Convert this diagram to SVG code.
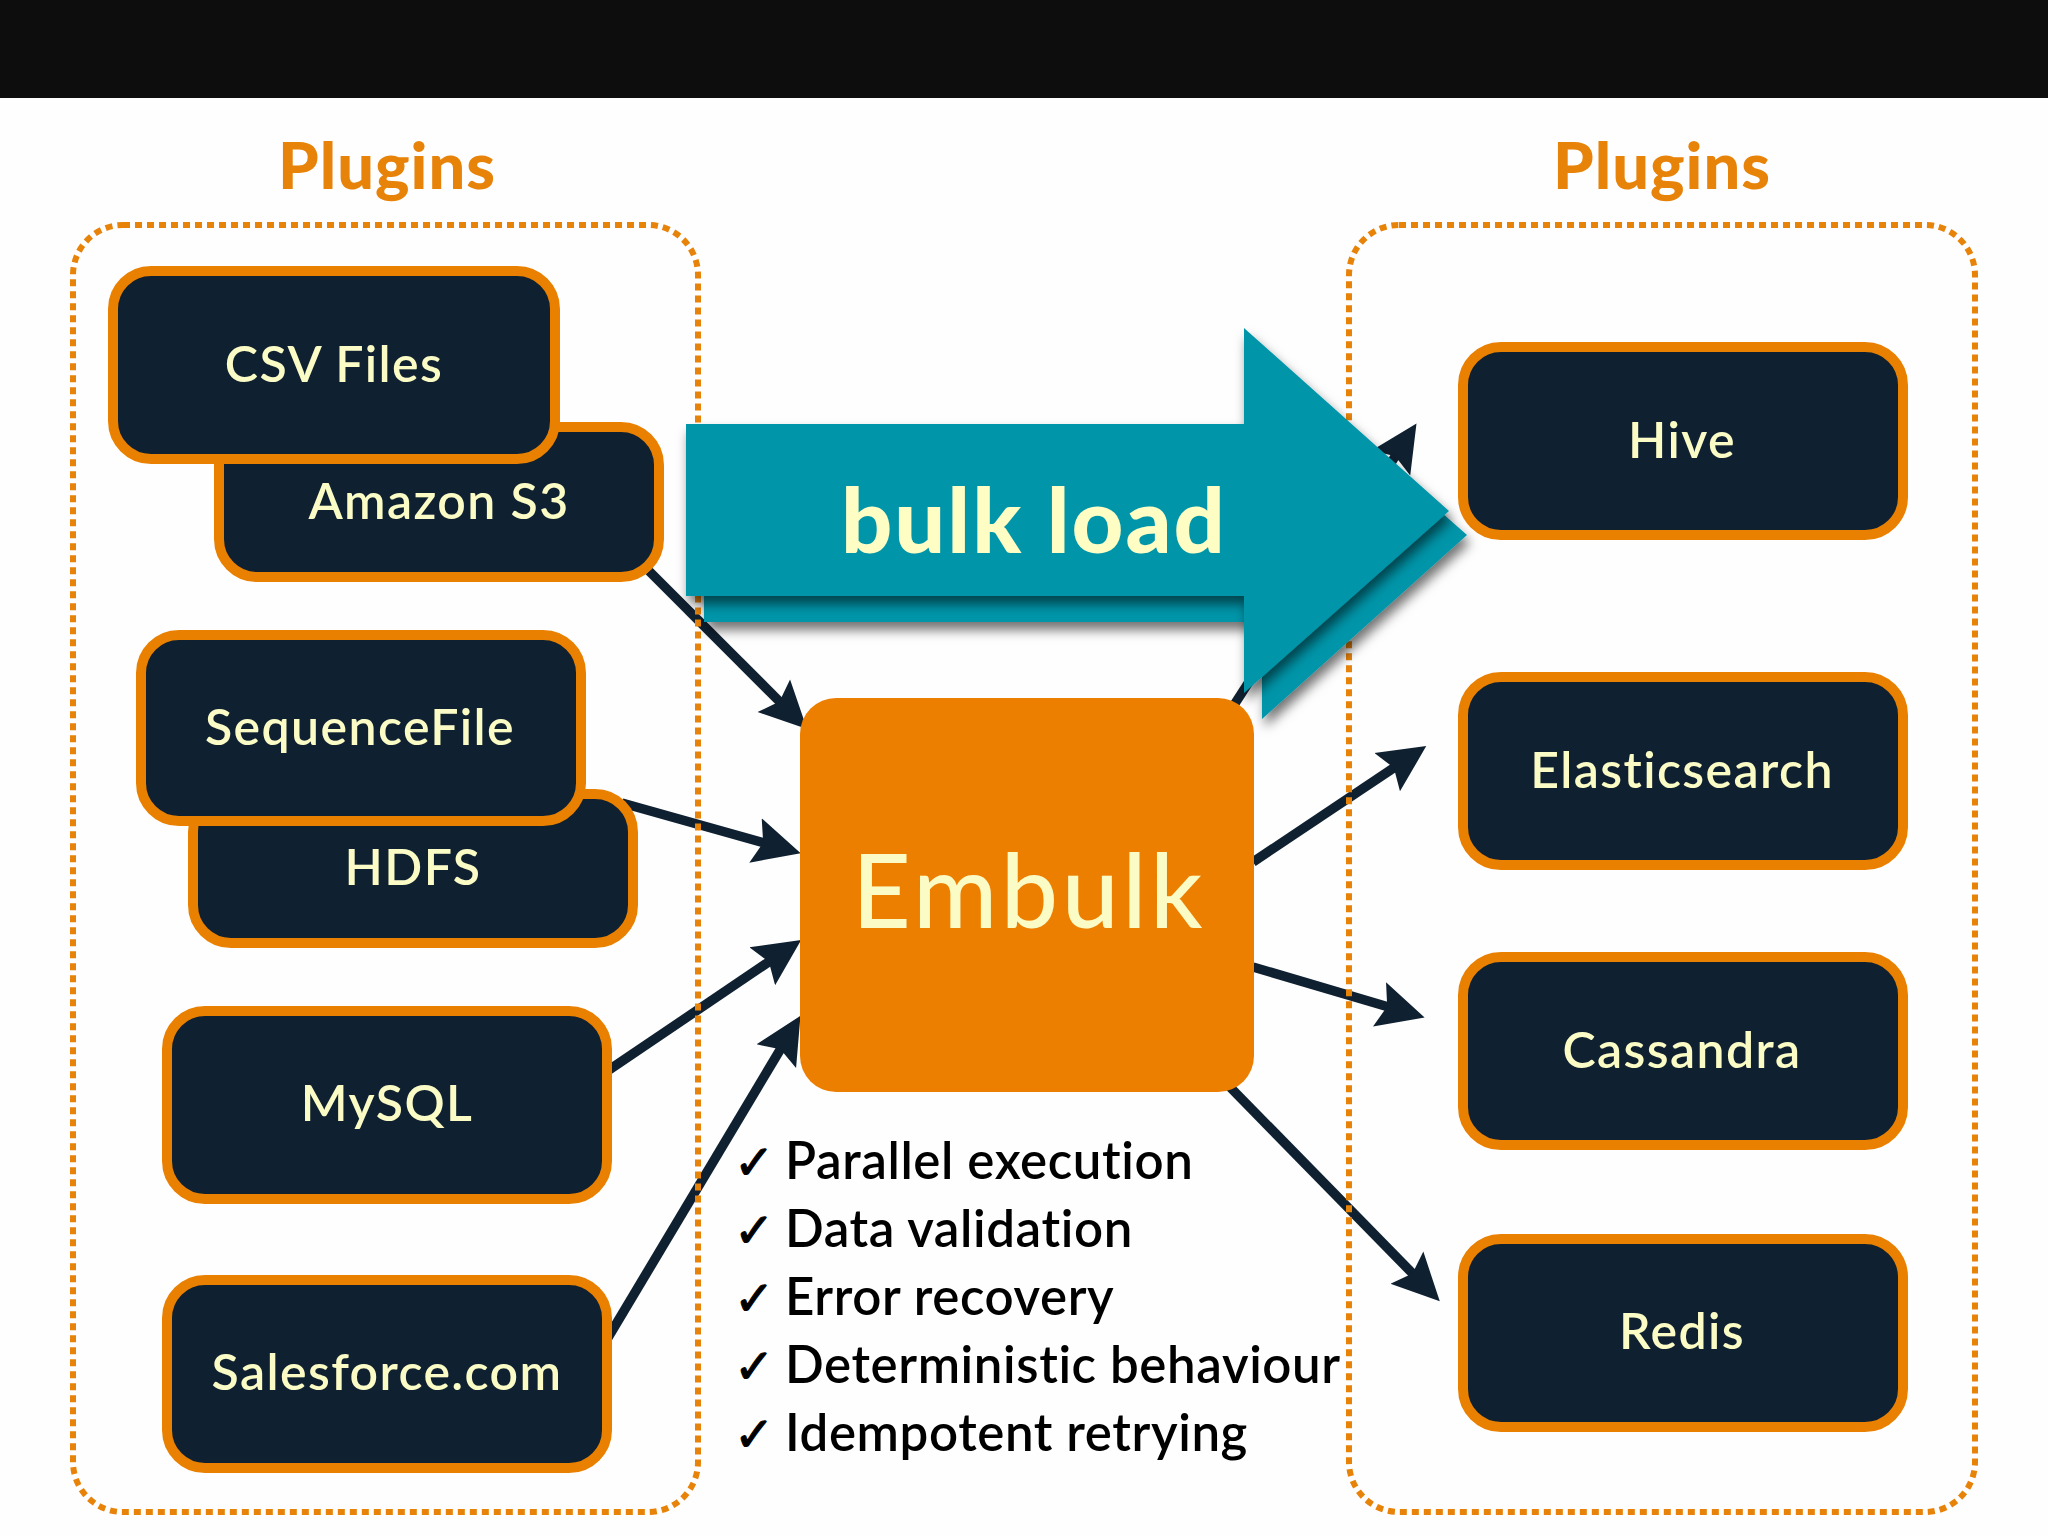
<svg xmlns="http://www.w3.org/2000/svg" width="2048" height="1536" viewBox="0 0 2048 1536">
<style>
.node{fill:#0f2030;stroke:#e98000;stroke-width:10}
.lbl{font-family:"Lato","Liberation Sans",sans-serif;font-size:50px;font-weight:600;letter-spacing:1.4px;fill:#fbfbc6;text-anchor:middle}
.ttl{font-family:"Lato","Liberation Sans",sans-serif;font-size:65px;font-weight:900;letter-spacing:1px;fill:#e8830a;text-anchor:middle}
.dot{fill:none;stroke:#e8830a;stroke-width:6;stroke-dasharray:7 5}
.con{fill:none;stroke:#0f2030;stroke-width:9.5;marker-end:url(#ah)}
.chk{font-family:"Lato","Liberation Sans",sans-serif;font-size:51px;font-weight:600;letter-spacing:.6px;fill:#000}
.tick{font-family:"DejaVu Sans",sans-serif;font-size:48px;fill:#000;stroke:#000;stroke-width:1.2}
.big{fill:#0295a9}
</style>
<defs>
<marker id="ah" markerUnits="userSpaceOnUse" markerWidth="52" markerHeight="52" refX="13" refY="26" orient="auto">
<path d="M0 3L47 26L0 49L8 26Z" fill="#0f2030"/>
</marker>
<filter id="sh" x="-10%" y="-10%" width="125%" height="125%">
<feDropShadow dx="3" dy="8" stdDeviation="6" flood-color="#000" flood-opacity="0.55"/>
</filter>
</defs>
<rect width="2048" height="1536" fill="#fefefe"/>
<rect id="topbar" width="2048" height="98" fill="#0d0d0d"/>
<g id="connectors">
<line class="con" x1="649" y1="571" x2="783" y2="705"/>
<line class="con" x1="622" y1="803" x2="768" y2="844"/>
<line class="con" x1="600" y1="1076" x2="773" y2="959"/>
<line class="con" x1="600" y1="1351" x2="783" y2="1045"/>
<line class="con" x1="1234" y1="705" x2="1398" y2="452"/>
<line class="con" x1="1253" y1="862" x2="1398" y2="765"/>
<line class="con" x1="1253" y1="967" x2="1392" y2="1008"/>
<line class="con" x1="1228" y1="1085" x2="1416" y2="1277"/>
</g>
<g id="plugins-left">
<rect class="dot" x="73" y="225" width="625" height="1287" rx="50"/>
<text class="ttl" x="387" y="189">Plugins</text>
</g>
<g id="plugins-right">
<rect class="dot" x="1349" y="225" width="626" height="1287" rx="50"/>
<text class="ttl" x="1662" y="189">Plugins</text>
</g>
<g id="amazon-s3"><rect class="node" x="219" y="427" width="440" height="150" rx="38"/><text class="lbl" x="439" y="519">Amazon S3</text></g>
<g id="csv-files"><rect class="node" x="113" y="271" width="442" height="188" rx="38"/><text class="lbl" x="334" y="382">CSV Files</text></g>
<g id="hdfs"><rect class="node" x="193" y="794" width="440" height="149" rx="38"/><text class="lbl" x="413" y="885">HDFS</text></g>
<g id="sequencefile"><rect class="node" x="141" y="635" width="440" height="186" rx="38"/><text class="lbl" x="360" y="745">SequenceFile</text></g>
<g id="mysql"><rect class="node" x="167" y="1011" width="440" height="188" rx="38"/><text class="lbl" x="387" y="1121">MySQL</text></g>
<g id="salesforce"><rect class="node" x="167" y="1280" width="440" height="188" rx="38"/><text class="lbl" x="387" y="1390">Salesforce.com</text></g>
<g id="hive"><rect class="node" x="1463" y="347" width="440" height="188" rx="38"/><text class="lbl" x="1682" y="458">Hive</text></g>
<g id="elasticsearch"><rect class="node" x="1463" y="677" width="440" height="188" rx="38"/><text class="lbl" x="1682" y="788">Elasticsearch</text></g>
<g id="cassandra"><rect class="node" x="1463" y="957" width="440" height="188" rx="38"/><text class="lbl" x="1682" y="1068">Cassandra</text></g>
<g id="redis"><rect class="node" x="1463" y="1239" width="440" height="188" rx="38"/><text class="lbl" x="1682" y="1349">Redis</text></g>
<g id="bulk-load">
<path class="big" filter="url(#sh)" d="M704 450H1262V354L1467 535L1262 719V622H704Z"/>
<path class="big" filter="url(#sh)" d="M686 424H1244V328L1449 511L1244 693V596H686Z"/>
<text x="1034" y="553" font-family="Lato,'Liberation Sans',sans-serif" font-size="90" font-weight="900" letter-spacing="2" fill="#fdfdc4" text-anchor="middle">bulk load</text>
</g>
<g id="embulk">
<rect x="800" y="698" width="454" height="394" rx="36" fill="#ed7f00"/>
<text x="1029" y="928" font-family="Lato,'Liberation Sans',sans-serif" font-size="102" font-weight="500" letter-spacing="3.5" fill="#fbfbc6" text-anchor="middle">Embulk</text>
</g>
<g id="features">
<text class="tick" x="734" y="1179">✓</text><text class="chk" x="785" y="1179">Parallel execution</text>
<text class="tick" x="734" y="1247">✓</text><text class="chk" x="785" y="1247">Data validation</text>
<text class="tick" x="734" y="1315">✓</text><text class="chk" x="785" y="1315">Error recovery</text>
<text class="tick" x="734" y="1383">✓</text><text class="chk" x="785" y="1383">Deterministic behaviour</text>
<text class="tick" x="734" y="1451">✓</text><text class="chk" x="785" y="1451">Idempotent retrying</text>
</g>
</svg>
